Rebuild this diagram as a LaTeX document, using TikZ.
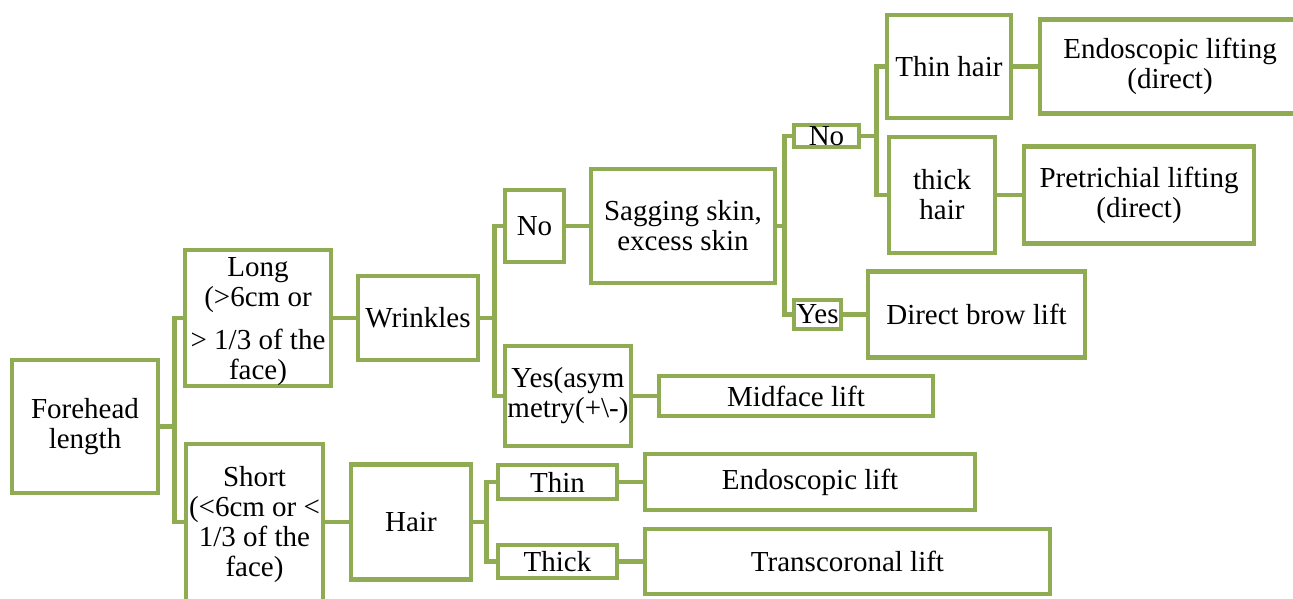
\documentclass[tikz,border=0pt]{standalone}
\usepackage{fontspec}
\setmainfont{Liberation Serif}
\definecolor{leafgreen}{RGB}{144,172,82}

\begin{document}
\begin{tikzpicture}[x=1pt,y=-1pt,
    box/.style={draw=leafgreen, line width=4.5pt, fill=white, inner sep=0pt,
        align=center, font=\fontsize{29}{30}\selectfont},
    link/.style={draw=leafgreen, line width=4.5pt}]
    \clip (0,0) rectangle (1293,599);
    % first level
    \node[box, minimum width=146pt, minimum height=133pt] (fore) at (85,426.5) {Forehead\\length};
    \node[box, minimum width=146pt, minimum height=129pt] (long) at (258,318) {\rule{0pt}{27pt}Long\\(>6cm or\\[13pt]> 1/3 of the\\face)};
    \node[box, minimum width=137pt, minimum height=172pt] (short) at (254.5,530) {Short\\(<6cm or <\\1/3 of the\\face)\rule[-18pt]{0pt}{18pt}};
    \node[box, minimum width=120pt, minimum height=84pt] (wrink) at (418,318) {Wrinkles};
    \node[box, minimum width=120pt, minimum height=115pt] (hair) at (411,522) {Hair};
    % wrinkles branch
    \node[box, minimum width=59pt, minimum height=72pt] (no1) at (534.5,226) {No};
    \node[box, minimum width=126pt, minimum height=100pt] (yesasym) at (568,396) {Yes(asym\\metry(+\textbackslash-)};
    \node[box, minimum width=184pt, minimum height=114pt] (sag) at (683,226) {Sagging skin,\\excess skin};
    \node[box, minimum width=274pt, minimum height=40pt] (midface) at (796,396) {Midface lift};
    \node[box, minimum width=65pt, minimum height=22pt] (no2) at (826.5,136) {No};
    \node[box, minimum width=47pt, minimum height=29pt] (yes2) at (817.5,314.5) {Yes};
    \node[box, minimum width=217pt, minimum height=86pt] (brow) at (976.5,314.5) {Direct brow lift};
    \node[box, minimum width=124pt, minimum height=103pt] (thinhair) at (949,66.5) {Thin hair};
    \node[box, minimum width=106pt, minimum height=116pt] (thickhair) at (942,195) {thick\\hair};
    \node[box, minimum width=260pt, minimum height=94pt] (endolift) at (1170,66.5) {Endoscopic lifting\\(direct)};
    \node[box, minimum width=230pt, minimum height=97pt] (pretri) at (1139,195) {Pretrichial lifting\\(direct)};
    % hair branch
    \node[box, minimum width=119pt, minimum height=34pt] (thin) at (557.5,482) {Thin};
    \node[box, minimum width=119pt, minimum height=33pt] (thick) at (557.5,561.5) {Thick};
    \node[box, minimum width=330pt, minimum height=56pt] (endo) at (810,482) {Endoscopic lift};
    \node[box, minimum width=405pt, minimum height=65pt] (trans) at (847.5,561.5) {Transcoronal lift};
    % connectors
    \draw[link] (fore.east) -- ++(14,0) |- (long.west);
    \draw[link] (fore.east) -- ++(14,0) |- (short.west |- hair.west);
    \draw[link] (long.east) -- (wrink.west);
    \draw[link] (short.east |- hair.west) -- (hair.west);
    \draw[link] (wrink.east) -- ++(14,0) |- (no1.west);
    \draw[link] (wrink.east) -- ++(14,0) |- (yesasym.west);
    \draw[link] (no1.east) -- (sag.west);
    \draw[link] (yesasym.east) -- (midface.west);
    \draw[link] (sag.east) -- ++(7,0) |- (no2.west);
    \draw[link] (sag.east) -- ++(7,0) |- (yes2.west);
    \draw[link] (yes2.east) -- (brow.west);
    \draw[link] (no2.east) -- ++(15,0) |- (thinhair.west);
    \draw[link] (no2.east) -- ++(15,0) |- (thickhair.west);
    \draw[link] (thinhair.east) -- (endolift.west);
    \draw[link] (thickhair.east) -- (pretri.west);
    \draw[link] (hair.east) -- ++(13,0) |- (thin.west);
    \draw[link] (hair.east) -- ++(13,0) |- (thick.west);
    \draw[link] (thin.east) -- (endo.west);
    \draw[link] (thick.east) -- (trans.west);
\end{tikzpicture}
\end{document}
